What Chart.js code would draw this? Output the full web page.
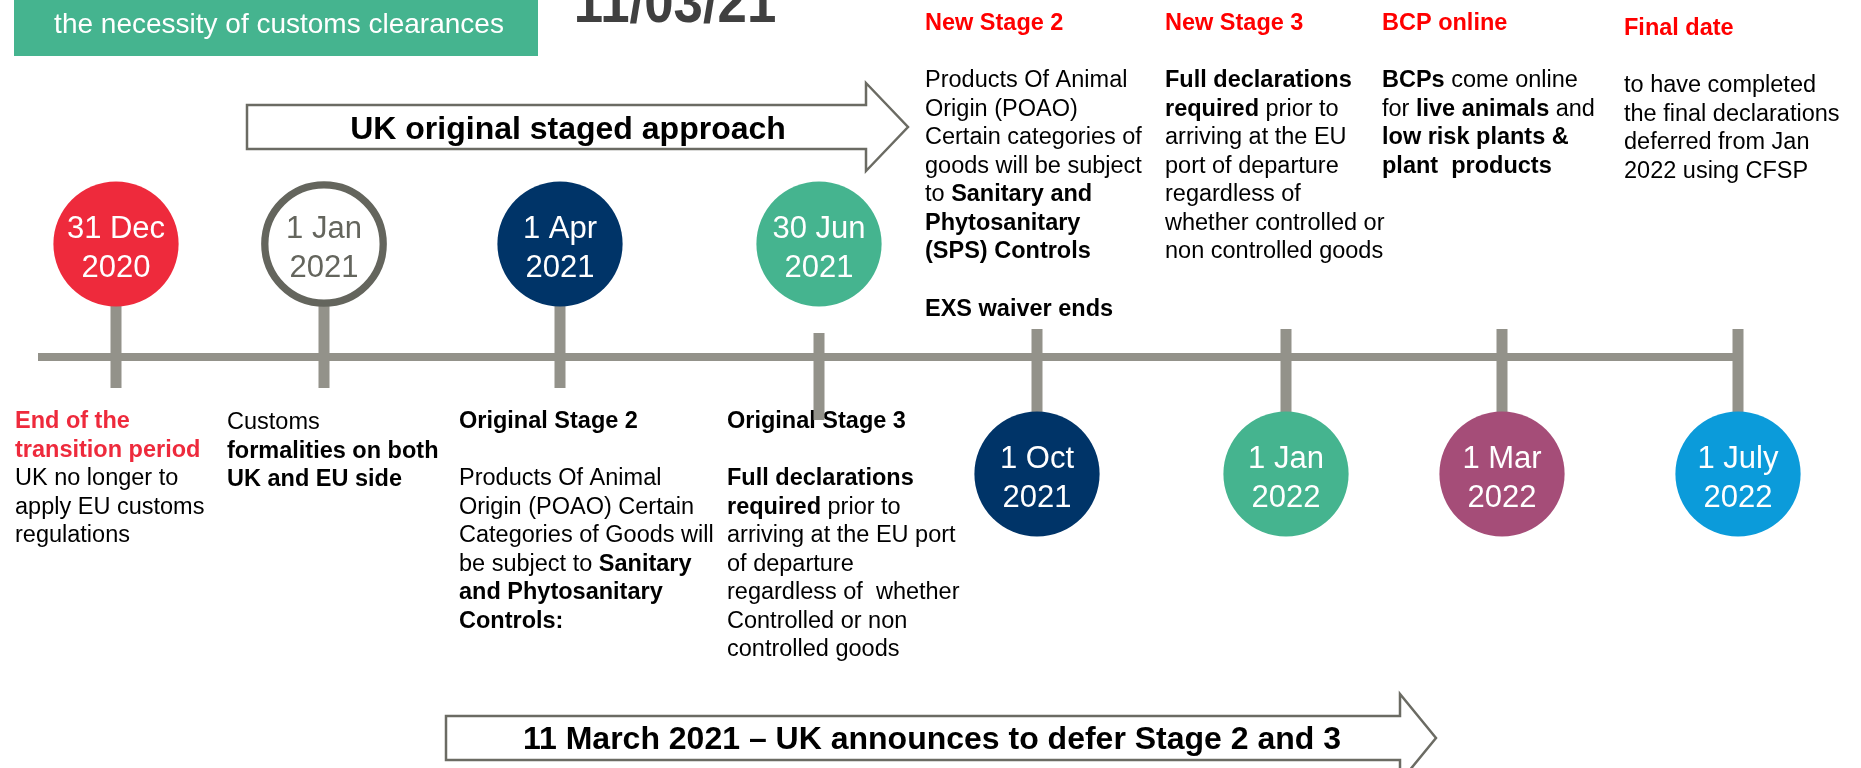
<!DOCTYPE html>
<html>
<head>
<meta charset="utf-8">
<script src="https://cdn.jsdelivr.net/npm/chart.js@4/dist/chart.umd.min.js"></script>
<style>
  html, body { margin: 0; padding: 0; background: #fff; }
  canvas { display: block; }
</style>
</head>
<body>
<canvas id="timeline" width="1861" height="768"></canvas>
<script>
// timeline events (circles)
const eventDates = ['31 Dec|2020', '1 Jan|2021', '1 Apr|2021', '30 Jun|2021', '1 Oct|2021', '1 Jan|2022', '1 Mar|2022', '1 July|2022']
// position of each event along the slide (slide units, 0..1861)
const eventPos = [116, 324, 560, 819, 1037, 1286, 1502, 1738]
// 1 = circle above the line, -1 = below
const eventSide = [1, 1, 1, 1, -1, -1, -1, -1]
const eventColors = ['#EE2A3C', '#FFFFFF', '#003468', '#45B48F', '#003468', '#45B48F', '#A54D78', '#0B9BDA']
const eventTextColors = ['#fff', '#64655D', '#fff', '#fff', '#fff', '#fff', '#fff', '#fff']

// notes next to the events ("^" = coloured heading, ** = bold)
const noteEnd = ['^End of the', '^transition period', 'UK no longer to', 'apply EU customs', 'regulations']
const noteCustoms = ['Customs', '**formalities on both**', '**UK and EU side**']
const noteOrig2 = ['**Original Stage 2**', '', 'Products Of Animal', 'Origin (POAO) Certain', 'Categories of Goods will', 'be subject to **Sanitary**', '**and Phytosanitary**', '**Controls:**']
const noteOrig3 = ['**Original Stage 3**', '', '**Full declarations**', '**required** prior to', 'arriving at the EU port', 'of departure', 'regardless of  whether', 'Controlled or non', 'controlled goods']
const noteNew2 = ['^New Stage 2', '', 'Products Of Animal', 'Origin (POAO)', 'Certain categories of', 'goods will be subject', 'to **Sanitary and**', '**Phytosanitary**', '**(SPS) Controls**', '', '**EXS waiver ends**']
const noteNew3 = ['^New Stage 3', '', '**Full declarations**', '**required** prior to', 'arriving at the EU', 'port of departure', 'regardless of', 'whether controlled or', 'non controlled goods']
const noteBcp = ['^BCP online', '', '**BCPs** come online', 'for **live animals** and', '**low risk plants &**', '**plant  products**']
const noteFinal = ['^Final date', '', 'to have completed', 'the final declarations', 'deferred from Jan', '2022 using CFSP']

const arrowTop = 'UK original staged approach'
const arrowBottom = '11 March 2021 \u2013 UK announces to defer Stage 2 and 3'
const boxText = 'the necessity of customs clearances'
const bigDate = '11/03/21'

// layout (slide units)
const W = 1861, H = 768
const LINE_Y = 357, UP_Y = 244, DOWN_Y = 474
const LH = 28.55
const FONT = '"Liberation Sans", Arial, sans-serif'
const notes = [
    {lines: noteEnd, x: 15, y: 428, head: '#EE2A3C'},
    {lines: noteCustoms, x: 227, y: 429},
    {lines: noteOrig2, x: 459, y: 428},
    {lines: noteOrig3, x: 727, y: 428},
    {lines: noteNew2, x: 925, y: 30, head: '#FF0000'},
    {lines: noteNew3, x: 1165, y: 30, head: '#FF0000'},
    {lines: noteBcp, x: 1382, y: 30, head: '#FF0000'},
    {lines: noteFinal, x: 1624, y: 35, head: '#FF0000'}
]

// circles
const circleData = eventPos.map((x, i) => ({x: x, y: eventSide[i] > 0 ? UP_Y : DOWN_Y}))
// stems: up -> from circle to under the line, down -> from above the line to circle
let stemData = []
eventPos.forEach((x, i) => {
    if (i === 3) {
        // 30 Jun stem is not joined to its circle
        stemData.push({x: x, y: 333}, {x: x, y: 420})
    } else if (eventSide[i] > 0) {
        stemData.push({x: x, y: UP_Y}, {x: x, y: 388})
    } else {
        stemData.push({x: x, y: 329}, {x: x, y: DOWN_Y})
    }
    stemData.push({x: x, y: null})
})
const lineData = [{x: 38, y: LINE_Y}, {x: 1739, y: LINE_Y}]

function richLine(ctx, x, y, line, size, color, headColor) {
    let bold = false
    let col = color
    if (line.startsWith('^')) {
        line = line.slice(1)
        bold = true
        col = headColor
    }
    const parts = line.split('**')
    let cx = x
    parts.forEach((p, i) => {
        const b = bold || i % 2 === 1
        ctx.font = (b ? 'bold ' : '') + size + 'px ' + FONT
        ctx.fillStyle = col
        ctx.fillText(p, cx, y)
        cx += ctx.measureText(p).width
    })
}

function arrow(ctx, xs, ys, left, right, top, bottom, tip, spread) {
    const mid = (top + bottom) / 2
    ctx.beginPath()
    ctx.moveTo(xs(left), ys(top))
    ctx.lineTo(xs(right), ys(top))
    ctx.lineTo(xs(right), ys(top - spread))
    ctx.lineTo(xs(tip), ys(mid))
    ctx.lineTo(xs(right), ys(bottom + spread))
    ctx.lineTo(xs(right), ys(bottom))
    ctx.lineTo(xs(left), ys(bottom))
    ctx.closePath()
    ctx.fillStyle = '#fff'
    ctx.fill()
    ctx.lineWidth = 2.5
    ctx.strokeStyle = '#6B6B63'
    ctx.stroke()
}

const slidePlugin = {
    id: 'slide',
    beforeDatasetsDraw(chart) {
        const ctx = chart.ctx
        const xs = v => chart.scales.x.getPixelForValue(v)
        const ys = v => chart.scales.y.getPixelForValue(v)
        ctx.save()
        // green box at the top left
        ctx.fillStyle = '#45B48F'
        ctx.fillRect(xs(14), ys(0), xs(538) - xs(14), ys(56) - ys(0))
        ctx.textBaseline = 'alphabetic'
        ctx.textAlign = 'center'
        ctx.fillStyle = '#fff'
        ctx.font = '28px ' + FONT
        ctx.fillText(boxText, xs(279), ys(33))
        // big date
        ctx.save()
        ctx.translate(xs(675), ys(22))
        ctx.scale(0.88, 1)
        ctx.fillStyle = '#404040'
        ctx.font = 'bold 60px ' + FONT
        ctx.fillText(bigDate, 0, 0)
        ctx.restore()

        // arrows
        arrow(ctx, xs, ys, 247, 866, 105, 149, 908, 22)
        arrow(ctx, xs, ys, 446, 1400, 716, 760, 1436, 22)
        ctx.fillStyle = '#000'
        ctx.font = 'bold 32px ' + FONT
        ctx.textAlign = 'center'
        ctx.fillText(arrowTop, xs(568), ys(139))
        ctx.fillText(arrowBottom, xs(932), ys(749))

        // notes
        ctx.textAlign = 'left'
        notes.forEach(n => {
            n.lines.forEach((l, i) => {
                if (l) richLine(ctx, xs(n.x), ys(n.y + i * LH), l, 23.5, '#000', n.head)
            })
        })
        ctx.restore()
    },
    afterDatasetsDraw(chart) {
        const ctx = chart.ctx
        const meta = chart.getDatasetMeta(0)
        ctx.save()
        ctx.textAlign = 'center'
        ctx.font = '31px ' + FONT
        meta.data.forEach((pt, i) => {
            const parts = eventDates[i].split('|')
            ctx.fillStyle = eventTextColors[i]
            ctx.fillText(parts[0], pt.x, pt.y - 6)
            ctx.fillText(parts[1], pt.x, pt.y + 33)
        })
        ctx.restore()
    }
}

new Chart(document.getElementById('timeline'), {
    type: 'scatter',
    data: {
        datasets: [
            {
                data: circleData,
                pointRadius: eventColors.map(c => c === '#FFFFFF' ? 59.2 : 62.6),
                pointHoverRadius: eventColors.map(c => c === '#FFFFFF' ? 59.2 : 62.6),
                pointBackgroundColor: eventColors,
                pointBorderColor: eventColors.map(c => c === '#FFFFFF' ? '#64655D' : c),
                pointBorderWidth: eventColors.map(c => c === '#FFFFFF' ? 7.3 : 0),
                showLine: false,
                clip: false,
                order: 0
            },
            {
                data: stemData,
                showLine: true,
                spanGaps: false,
                borderColor: '#93928A',
                borderWidth: 11,
                pointRadius: 0,
                clip: false,
                order: 1
            },
            {
                data: lineData,
                showLine: true,
                borderColor: '#93928A',
                borderWidth: 8,
                pointRadius: 0,
                clip: false,
                order: 2
            }
        ]
    },
    options: {
        responsive: false,
        animation: false,
        events: [],
        layout: {padding: 0, autoPadding: false},
        plugins: {
            legend: {display: false},
            tooltip: {enabled: false}
        },
        scales: {
            x: {type: 'linear', min: 0, max: W, display: false},
            y: {type: 'linear', min: 0, max: H, reverse: true, display: false}
        }
    },
    plugins: [slidePlugin]
})
</script>
</body>
</html>
